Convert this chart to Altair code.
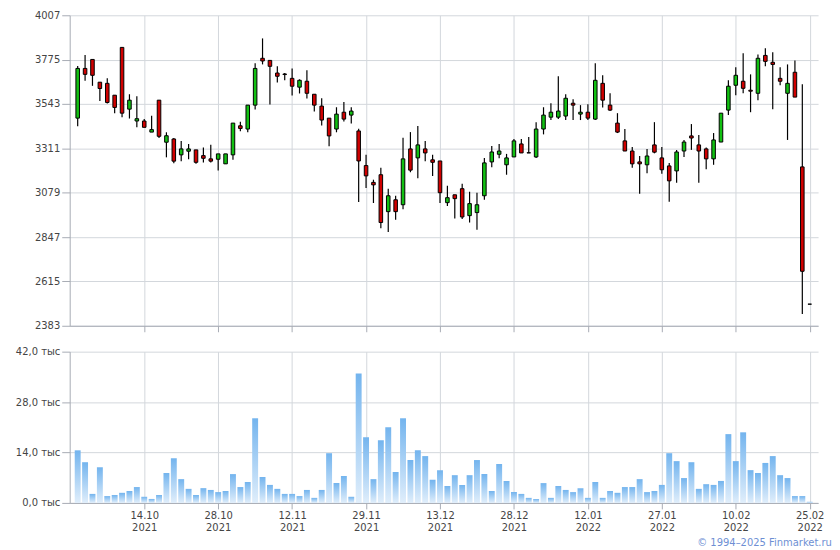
import altair as alt
import pandas as pd

# ---- data (one entry per trading day) ----
opens = [3469, 3729, 3776, 3657, 3651, 3589, 3839, 3516, 3454, 3454,
         3396, 3563, 3343, 3360, 3277, 3296, 3303, 3273, 3256, 3254,
         3230, 3277, 3429, 3412, 3537, 3782, 3771, 3705, 3700, 3677,
         3631, 3662, 3594, 3532, 3469, 3412, 3500, 3485, 3402, 3221,
         3133, 3173, 2980, 3042, 3016, 3308, 3261, 3308, 3251, 3245,
         3027, 3068, 3100, 2959, 2975, 3063, 3240, 3280, 3225, 3266,
         3334, 3288, 3266, 3412, 3474, 3474, 3480, 3547, 3490, 3500,
         3464, 3651, 3537, 3443, 3350, 3297, 3240, 3225, 3329, 3261,
         3219, 3193, 3297, 3376, 3329, 3308, 3256, 3344, 3511, 3641,
         3662, 3615, 3599, 3797, 3761, 3677, 3599, 3709, 3214, 2496]
highs = [3742, 3799, 3776, 3657, 3677, 3589, 3839, 3594, 3584, 3464,
         3481, 3563, 3395, 3365, 3350, 3334, 3303, 3315, 3330, 3282,
         3282, 3443, 3450, 3537, 3756, 3886, 3771, 3740, 3705, 3729,
         3672, 3719, 3594, 3573, 3469, 3526, 3553, 3526, 3414, 3277,
         3147, 3209, 3100, 3063, 3367, 3396, 3428, 3350, 3277, 3245,
         3115, 3068, 3126, 3084, 3079, 3261, 3323, 3334, 3282, 3360,
         3360, 3370, 3448, 3526, 3547, 3688, 3594, 3568, 3537, 3542,
         3756, 3693, 3599, 3495, 3412, 3318, 3271, 3308, 3448, 3318,
         3235, 3303, 3355, 3438, 3381, 3315, 3391, 3495, 3667, 3735,
         3808, 3698, 3802, 3834, 3813, 3735, 3750, 3771, 3646, 2496]
lows = [3426, 3664, 3638, 3559, 3546, 3494, 3473, 3467, 3421, 3421,
        3396, 3365, 3264, 3233, 3244, 3254, 3230, 3237, 3237, 3195,
        3230, 3252, 3400, 3395, 3514, 3750, 3540, 3655, 3667, 3587,
        3598, 3572, 3504, 3431, 3322, 3395, 3452, 3441, 3030, 3103,
        3025, 2893, 2874, 2937, 2992, 3186, 3155, 3244, 3166, 3025,
        3009, 2944, 2942, 2923, 2885, 3042, 3212, 3259, 3173, 3266,
        3287, 3287, 3261, 3384, 3459, 3464, 3459, 3459, 3459, 3459,
        3459, 3525, 3506, 3391, 3297, 3209, 3074, 3181, 3285, 3178,
        3032, 3131, 3266, 3303, 3131, 3202, 3225, 3344, 3485, 3589,
        3599, 3500, 3563, 3740, 3516, 3641, 3355, 3579, 2444, 2496]
closes = [3729, 3698, 3693, 3624, 3551, 3525, 3495, 3563, 3466, 3421,
          3409, 3374, 3377, 3244, 3308, 3308, 3238, 3259, 3244, 3282,
          3282, 3443, 3415, 3537, 3729, 3768, 3740, 3688, 3697, 3636,
          3667, 3599, 3537, 3459, 3376, 3490, 3464, 3506, 3245, 3167,
          3120, 2923, 3063, 2980, 3256, 3197, 3329, 3287, 3238, 3079,
          3053, 3048, 2952, 3022, 3016, 3235, 3292, 3297, 3261, 3350,
          3287, 3287, 3412, 3485, 3500, 3506, 3573, 3537, 3500, 3469,
          3667, 3563, 3511, 3396, 3297, 3230, 3230, 3271, 3291, 3199,
          3141, 3292, 3344, 3365, 3297, 3256, 3355, 3495, 3636, 3693,
          3625, 3610, 3782, 3766, 3750, 3662, 3651, 3579, 2668, 2496]
volumes = [14.6, 11.3, 2.5, 9.9, 1.9, 2.2, 2.8, 3.3, 4.4, 1.7,
           1.1, 2.2, 8.3, 12.4, 6.6, 3.9, 2.2, 4.1, 3.6, 3.0,
           3.3, 8.0, 4.4, 5.8, 23.5, 7.2, 5.0, 3.9, 2.5, 2.5,
           1.9, 3.6, 1.4, 3.6, 13.8, 5.5, 7.5, 1.7, 35.9, 18.2,
           6.6, 17.4, 21.0, 8.6, 23.5, 11.9, 14.6, 13.0, 6.4, 9.1,
           4.7, 7.7, 5.0, 7.7, 11.9, 8.0, 3.3, 10.8, 6.1, 3.0,
           2.5, 1.4, 1.1, 5.5, 1.4, 4.7, 3.6, 3.0, 4.1, 1.4,
           5.8, 1.4, 3.3, 2.8, 4.4, 4.4, 6.6, 3.0, 3.3, 5.0,
           13.8, 11.6, 6.9, 11.3, 3.9, 5.2, 5.0, 6.1, 19.1, 11.6,
           19.6, 9.1, 8.3, 11.1, 13.0, 7.7, 6.9, 1.9, 1.9, 0.3]  # thousands

tick_pos = [9, 19, 29, 39, 49, 59, 69, 79, 89, 99]
tick_day = ["14.10", "28.10", "12.11", "29.11", "13.12", "28.12",
            "12.01", "27.01", "10.02", "25.02"]
tick_year = ["2021", "2021", "2021", "2021", "2021", "2021",
             "2022", "2022", "2022", "2022"]
price_ticks = [2383, 2615, 2847, 3079, 3311, 3543, 3775, 4007]
vol_ticks = [0, 14, 28, 42]

df = pd.DataFrame({"i": list(range(len(opens))), "open": opens, "high": highs,
                   "low": lows, "close": closes, "vol": volumes})
df["dir"] = ["up" if c >= o else "down" for o, c in zip(opens, closes)]
df["b0"] = df["i"] - 0.24
df["b1"] = df["i"] + 0.24
df["v0"] = df["i"] - 0.4
df["v1"] = df["i"] + 0.4
df["zero"] = 0.0

GREEN = "#12c012"
RED = "#d00000"
AXIS_C = "#a7abb4"
GRID_C = "#d3d7dc"

xscale = alt.Scale(domain=[-1.08, 100.13], nice=False, zero=False)

label_arr = "[" + ",".join(f"['{d}','{y}']" for d, y in zip(tick_day, tick_year)) + "]"
pos_arr = "[" + ",".join(str(p) for p in tick_pos) + "]"
x_label_expr = f"{label_arr}[indexof({pos_arr}, datum.value)]"

base = alt.Chart(df)

wick = base.mark_rule(color="black", strokeWidth=1.2).encode(
    x=alt.X("i:Q", scale=xscale,
            axis=alt.Axis(values=tick_pos, labels=False, ticks=True, tickSize=6,
                          grid=True, title=None)),
    y=alt.Y("low:Q", scale=alt.Scale(domain=[2383, 4007], nice=False, zero=False),
            axis=alt.Axis(values=price_ticks, title=None, tickSize=8, labelPadding=2,
                          format="d")),
    y2="high:Q",
)
body = base.mark_bar(stroke="black", strokeWidth=1).encode(
    x="b0:Q", x2="b1:Q",
    y="open:Q", y2="close:Q",
    color=alt.Color("dir:N", scale=alt.Scale(domain=["up", "down"], range=[GREEN, RED]),
                    legend=None),
)
top = alt.layer(wick, body).properties(width=752, height=312)

grad = alt.Gradient(
    gradient="linear",
    stops=[alt.GradientStop(offset=0, color="#73b4ee"),
           alt.GradientStop(offset=1, color="#e0eefb")],
    x1=1, x2=1, y1=0, y2=1,
)
vol = base.mark_bar(color=grad).encode(
    x=alt.X("v0:Q", scale=xscale,
            axis=alt.Axis(values=tick_pos, labelExpr=x_label_expr, tickSize=6,
                          grid=True, title=None, labelLineHeight=12, labelPadding=2,
                          labelBaseline="top")),
    x2="v1:Q",
    y=alt.Y("vol:Q", scale=alt.Scale(domain=[0, 42], nice=False, padding=0),
            axis=alt.Axis(values=vol_ticks, title=None, tickSize=8, labelPadding=2,
                          labelExpr="replace(format(datum.value, '.1f'), '.', ',') + ' тыс'")),
    y2="zero:Q",
).properties(width=752, height=152)

chart = alt.vconcat(top, vol, spacing=14).properties(
    title=alt.TitleParams("© 1994–2025 Finmarket.ru", orient="bottom", anchor="end",
                          fontSize=10, font="DejaVu Sans", fontWeight="normal",
                          color="#6e8fd4", dx=8, offset=5),
    padding={"left": 7, "top": 1, "right": 0, "bottom": 0},
).configure_axis(
    labelFont="DejaVu Sans", labelFontSize=10, labelColor="#444444",
    domainColor=AXIS_C, tickColor=AXIS_C, gridColor=GRID_C, gridWidth=1,
).configure_view(stroke=None)

chart.save("out.html", embed_options={"renderer": "svg", "actions": False})
